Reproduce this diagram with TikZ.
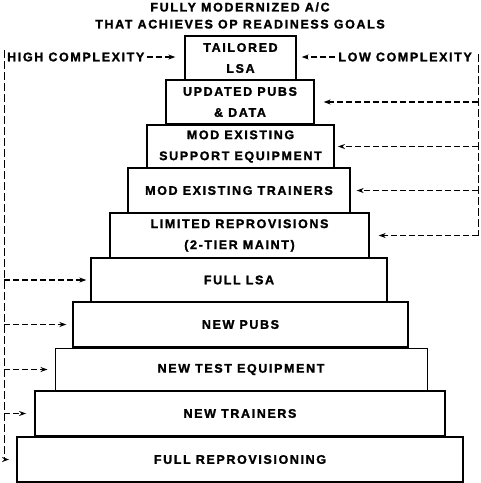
\documentclass[tikz,border=0pt]{standalone}
\usepackage{fontspec}
\newfontfamily\tierfont[LetterSpace=13, BoldFeatures={FakeBold=1.6}]{Liberation Sans}
\usetikzlibrary{positioning, arrows.meta}

\tikzset{
  tier/.style={draw, fill=white, line width=1.3pt, inner sep=0pt, align=center,
    font=\tierfont\bfseries\fontsize{12.5}{21}\selectfont},
  heavytier/.style={tier, line width=1.9pt},
  tag/.style={inner sep=0pt, font=\tierfont\bfseries\fontsize{12.5}{17}\selectfont},
  dasharrow/.style={-{Stealth[length=7pt,width=5pt]}, dash pattern=on 6pt off 3pt, line width=1.2pt, shorten >=6pt},
  dashline/.style={dash pattern=on 8pt off 3pt, line width=0.8pt}
}

\begin{document}
\begin{tikzpicture}[x=1pt,y=-1pt]
        \useasboundingbox (0,0) rectangle (481,483);

        \node[tag, align=center] (goal) at (240,15.5) {FULLY MODERNIZED A/C\\THAT ACHIEVES OP READINESS GOALS};

        \node[tier, minimum width=111pt, minimum height=44pt] (tailored) at (240.5,58) {TAILORED\\LSA};
        \node[tier, minimum width=148pt, minimum height=44pt] (updpubs) at (240,102) {UPDATED PUBS\\\& DATA};
        \node[heavytier, minimum width=187pt, minimum height=43pt] (modsupport) at (240.5,146.5) {MOD EXISTING\\SUPPORT EQUIPMENT};
        \node[tier, minimum width=222pt, minimum height=45pt] (modtrainers) at (239,190.5) {MOD EXISTING TRAINERS};
        \node[tier, minimum width=259pt, minimum height=45pt] (limited) at (239.5,235.5) {LIMITED REPROVISIONS\\(2-TIER MAINT)};
        \node[tier, minimum width=296pt, minimum height=44pt] (fulllsa) at (239,280) {FULL LSA};
        \node[tier, minimum width=335pt, minimum height=45pt] (newpubs) at (240.5,324.5) {NEW PUBS};
        \node[tier, line width=1pt, minimum width=372pt, minimum height=43pt] (newtest) at (241,369.5) {NEW TEST EQUIPMENT};
        \node[heavytier, minimum width=410pt, minimum height=45pt] (newtrainers) at (240,413.5) {NEW TRAINERS};
        \node[heavytier, minimum width=446pt, minimum height=45pt] (fullrepro) at (240,459.5) {FULL REPROVISIONING};

        % complexity labels
        \node[tag, anchor=west] (high) at (7,57) {HIGH COMPLEXITY};
        \node[tag, anchor=east] (low) at (472,57) {LOW COMPLEXITY};
        \draw[dasharrow, shorten <=2pt, shorten >=9pt] (high.east) -- (high.east -| tailored.west);
        \draw[dasharrow, shorten <=3pt, shorten >=5pt] (low.west) -- (low.west -| tailored.east);

        % left side
        \coordinate (ltop) at (4,50);
        \coordinate (l6) at (4,280);
        \coordinate (l7) at (4,324.5);
        \coordinate (l8) at (4,369.5);
        \coordinate (l9) at (4,413.5);
        \coordinate (l10) at (4,459.5);
        \draw[dashline] (ltop) -- (l10);
        \draw[dasharrow, shorten >=4pt] (l6) -- (fulllsa);
        \draw[dasharrow] (l7) -- (newpubs);
        \draw[dasharrow, shorten >=7pt] (l8) -- (newtest);
        \draw[dasharrow, shorten >=8pt] (l9) -- (newtrainers);
        \draw[dasharrow, shorten >=7pt] (l10) -- (fullrepro);

        % right side
        \coordinate (rtop) at (478,54);
        \coordinate (r2) at (478,102);
        \coordinate (r3) at (478,146.5);
        \coordinate (r4) at (478,190.5);
        \coordinate (r5) at (478,235.5);
        \draw[dashline] (rtop) -- (r5);
        \draw[dasharrow, shorten >=9pt] (r2) -- (updpubs);
        \draw[dasharrow, shorten >=3pt] (r3) -- (modsupport);
        \draw[dasharrow] (r4) -- (modtrainers);
        \draw[dasharrow, shorten >=9pt] (r5) -- (limited);

    \end{tikzpicture}
\end{document}
